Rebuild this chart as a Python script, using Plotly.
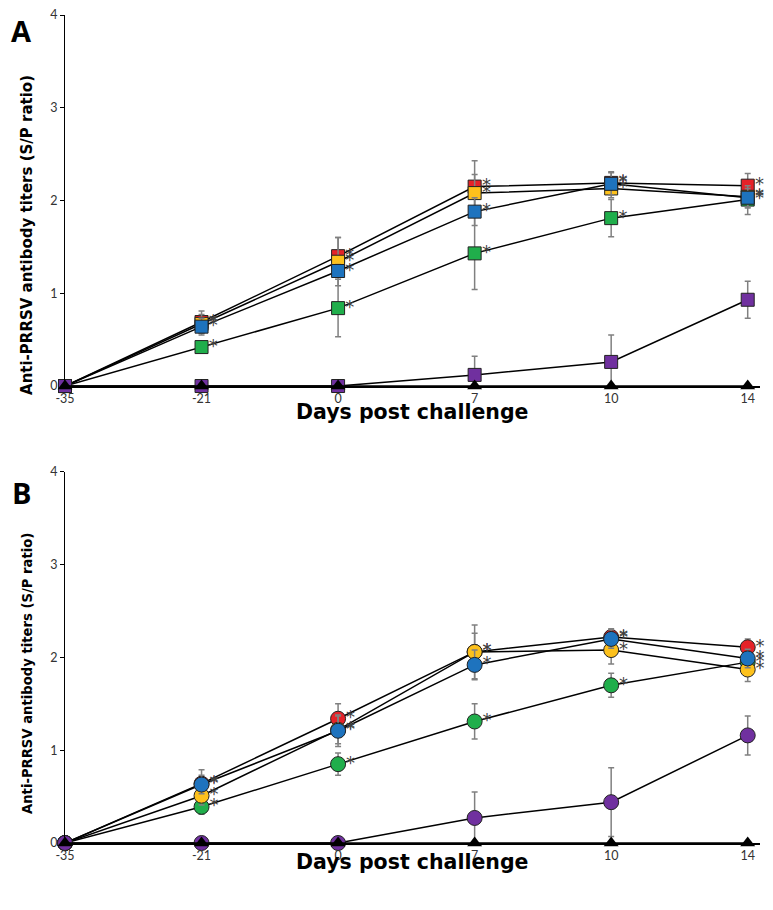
import plotly.graph_objects as go
from plotly.subplots import make_subplots

days = ["-35", "-21", "0", "7", "10", "14"]
xpos = [0, 1, 2, 3, 4, 5]

# Panel A (squares)
a_red = [0, 0.69, 1.40, 2.15, 2.19, 2.16]
a_red_sd = [0, 0.12, 0.20, 0.28, 0.12, 0.13]
a_yellow = [0, 0.67, 1.34, 2.08, 2.13, 2.04]
a_yellow_sd = [0, 0.10, 0.26, 0.20, 0.10, 0.12]
a_blue = [0, 0.64, 1.24, 1.88, 2.18, 2.03]
a_blue_sd = [0, 0.09, 0.07, 0.15, 0.12, 0.10]
a_green = [0, 0.42, 0.84, 1.43, 1.81, 2.01]
a_green_sd = [0, 0.05, 0.31, 0.39, 0.20, 0.16]
a_purple = [0, 0, 0, 0.12, 0.26, 0.93]
a_purple_sd = [0, 0, 0, 0.20, 0.29, 0.20]
a_black = [0, 0, 0, 0, 0, 0]

# Panel B (circles)
b_red = [0, 0.64, 1.34, 2.06, 2.22, 2.11]
b_red_sd = [0, 0.15, 0.16, 0.29, 0.09, 0.09]
b_yellow = [0, 0.51, 1.22, 2.06, 2.08, 1.87]
b_yellow_sd = [0, 0.10, 0.15, 0.20, 0.15, 0.13]
b_blue = [0, 0.63, 1.21, 1.92, 2.20, 1.99]
b_blue_sd = [0, 0.10, 0.17, 0.16, 0.10, 0.10]
b_green = [0, 0.39, 0.85, 1.31, 1.70, 1.95]
b_green_sd = [0, 0.08, 0.12, 0.19, 0.13, 0.12]
b_purple = [0, 0, 0, 0.27, 0.44, 1.16]
b_purple_sd = [0, 0, 0, 0.28, 0.37, 0.21]
b_black = [0, 0, 0, 0, 0, 0]

stars = ["", "*", "*", "*", "*", "*"]

RED = "#E52228"
YELLOW = "#FDC11C"
BLUE = "#1E73BE"
GREEN = "#20AE4B"
PURPLE = "#70309F"
ERR = "#808080"

fig = make_subplots(rows=2, cols=1, vertical_spacing=0.1038)

def add_panel(row, series, symbol, size):
    for y, sd, col in series:
        fig.add_trace(go.Scatter(
            x=xpos, y=y, mode="lines+markers",
            line=dict(color="black", width=1.5),
            marker=dict(symbol=symbol, size=size, color=col,
                        line=dict(color="#222222", width=1)),
            error_y=dict(type="data", array=sd, visible=True,
                         color=ERR, thickness=1.5, width=3),
            cliponaxis=False, showlegend=False), row=row, col=1)

def add_black(row, y):
    fig.add_trace(go.Scatter(
        x=xpos, y=y, mode="lines+markers",
        line=dict(color="black", width=1.5),
        marker=dict(symbol="triangle-up", size=13, color="black"),
        cliponaxis=False, showlegend=False), row=row, col=1)

def add_stars(row, ys, size):
    for y in ys:
        fig.add_trace(go.Scatter(
            x=xpos, y=y, mode="markers+text", text=stars,
            textposition="middle right",
            textfont=dict(family="DejaVu Sans", size=18, color="#404040"),
            marker=dict(size=size, color="rgba(0,0,0,0)"),
            cliponaxis=False, showlegend=False, hoverinfo="skip"), row=row, col=1)

add_panel(1, [(a_green, a_green_sd, GREEN), (a_red, a_red_sd, RED),
              (a_yellow, a_yellow_sd, YELLOW), (a_blue, a_blue_sd, BLUE),
              (a_purple, a_purple_sd, PURPLE)], "square", 13)
add_black(1, a_black)
add_stars(1, [a_red, a_yellow, a_blue, a_green], 10)

add_panel(2, [(b_green, b_green_sd, GREEN), (b_red, b_red_sd, RED),
              (b_yellow, b_yellow_sd, YELLOW), (b_blue, b_blue_sd, BLUE),
              (b_purple, b_purple_sd, PURPLE)], "circle", 15)
add_black(2, b_black)
add_stars(2, [b_red, b_yellow, b_blue, b_green], 11)

tickfont = dict(family="Lato", size=12.5, color="#333333")
for r in (1, 2):
    fig.update_xaxes(row=r, col=1, range=[0, 5.09], tickmode="array",
                     tickvals=xpos, ticktext=days, showline=True,
                     linecolor="black", linewidth=1.5, showgrid=False,
                     zeroline=False, ticks="", tickfont=tickfont,
                     ticklabeloverflow="allow")
    fig.update_yaxes(row=r, col=1, range=[0, 4], tickvals=[0, 1, 2, 3, 4],
                     showline=True, linecolor="black", linewidth=1,
                     ticks="outside", ticklen=4, tickcolor="black",
                     showgrid=False, zeroline=False, tickfont=tickfont,
                     ticklabeloverflow="allow")

TF = "DejaVu Sans"
titlefont = dict(family=TF, size=20.5, color="black")
ann = []
ann.append(dict(text="<b>Days post challenge</b>", x=0.4993, y=0.521,
                xref="paper", yref="paper", showarrow=False, font=titlefont,
                xanchor="center", yanchor="middle"))
ann.append(dict(text="<b>Days post challenge</b>", x=0.4993, y=-0.0225,
                xref="paper", yref="paper", showarrow=False, font=titlefont,
                xanchor="center", yanchor="middle"))
ann.append(dict(text="<b>Anti-PRRSV antibody titers (S/P ratio)</b>",
                x=-0.0547, y=0.7343, xref="paper", yref="paper",
                showarrow=False, textangle=-90,
                font=dict(family=TF, size=15, color="black"),
                xanchor="center", yanchor="middle"))
ann.append(dict(text="<b>Anti-PRRSV antibody titers (S/P ratio)</b>",
                x=-0.0547, y=0.2053, xref="paper", yref="paper",
                showarrow=False, textangle=-90,
                font=dict(family=TF, size=13.2, color="black"),
                xanchor="center", yanchor="middle"))
ann.append(dict(text="<b>A</b>", x=-0.0633, y=0.981, xref="paper",
                yref="paper", showarrow=False,
                font=dict(family="Open Sans", size=29, color="black"),
                xanchor="center", yanchor="middle"))
ann.append(dict(text="<b>B</b>", x=-0.0619, y=0.4233, xref="paper",
                yref="paper", showarrow=False,
                font=dict(family="Open Sans", size=29, color="black"),
                xanchor="center", yanchor="middle"))

# page has an 8px body margin; figure coords = page coords - 8
fig.update_layout(width=765, height=902,
                  margin=dict(l=57, r=13, t=7, b=67, autoexpand=False),
                  plot_bgcolor="white", paper_bgcolor="white",
                  annotations=ann)

fig.write_html("out.html")
